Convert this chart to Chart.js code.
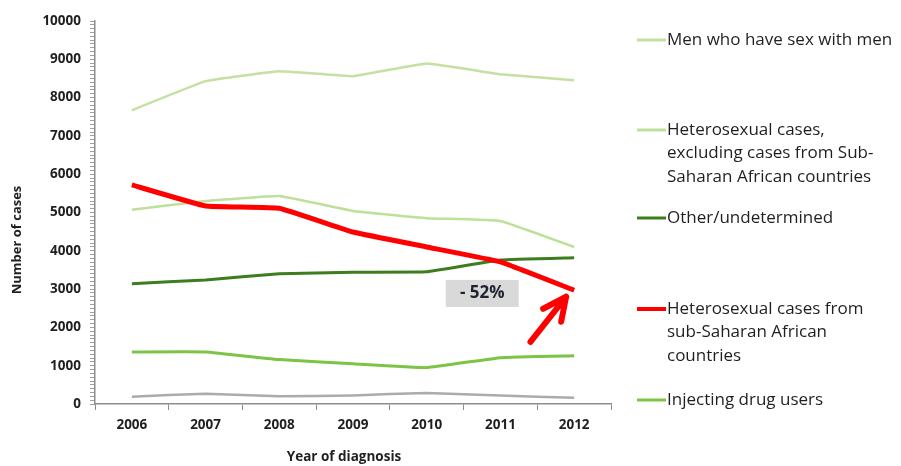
<!DOCTYPE html>
<html>
<head>
<meta charset="utf-8">
<script src="https://cdn.jsdelivr.net/npm/chart.js@4/dist/chart.umd.min.js"></script>
<style>
  html, body { margin:0; padding:0; background:#fff; }
  #wrap { width:901px; height:466px; position:relative; }
</style>
</head>
<body>
<div id="wrap"><canvas id="cases" width="901" height="466"></canvas></div>
<script>
// Diagnoses by route of transmission, 2006-2012
const years = ['2006', '2007', '2008', '2009', '2010', '2011', '2012'];

const msm = [7670, 8430, 8690, 8560, 8890, 8610, 8450];
const heteroNonSSA = [5070, 5300, 5430, 5040, 4850, 4780, 4100];
const otherUndetermined = [3140, 3240, 3400, 3440, 3450, 3760, 3820];
const heteroSSA = [5720, 5170, 5110, 4490, 4100, 3710, 2970];
const idu = [1360, 1360, 1160, 1050, 950, 1210, 1260];
const unlabelled = [190, 270, 200, 225, 290, 220, 160];

const changeLabel = '- 52%';

const FONT = "'Open Sans', 'DejaVu Sans', sans-serif";
const TEXT = '#1f1f1f';
const AXIS = '#8c8c8c';

// legend rows: label lines + vertical position of the first line
const legendRows = [
    { ds: 0, lines: ['Men who have sex with men'], y: 40 },
    { ds: 1, lines: ['Heterosexual cases,', 'excluding cases from Sub-', 'Saharan African countries'], y: 130 },
    { ds: 2, lines: ['Other/undetermined'], y: 218 },
    { ds: 3, lines: ['Heterosexual cases from', 'sub-Saharan African', 'countries'], y: 309 },
    { ds: 4, lines: ['Injecting drug users'], y: 400 }
];

const sideLegend = {
    id: 'sideLegend',
    afterDraw(chart) {
        const ctx = chart.ctx;
        ctx.save();
        ctx.font = '17px ' + FONT;
        ctx.fillStyle = TEXT;
        ctx.textBaseline = 'middle';
        ctx.textAlign = 'left';
        legendRows.forEach(row => {
            const ds = chart.data.datasets[row.ds];
            ctx.strokeStyle = ds.borderColor;
            ctx.lineWidth = ds.borderWidth > 4 ? 4 : 3;
            ctx.beginPath();
            ctx.moveTo(637, row.y);
            ctx.lineTo(666, row.y);
            ctx.stroke();
            row.lines.forEach((t, i) => ctx.fillText(t, 667, row.y + i * 23.5));
        });
        ctx.restore();
    }
};

// axis titles, placed by hand
const axisTitles = {
    id: 'axisTitles',
    afterDraw(chart) {
        const ctx = chart.ctx;
        const area = chart.chartArea;
        ctx.save();
        ctx.fillStyle = TEXT;
        ctx.font = 'bold 13.5px ' + FONT;
        ctx.textAlign = 'center';
        ctx.textBaseline = 'middle';
        ctx.fillText('Year of diagnosis', (area.left + area.right) / 2 - 9, 457);
        ctx.font = 'bold 13px ' + FONT;
        ctx.translate(17, 240);
        ctx.rotate(-Math.PI / 2);
        ctx.fillText('Number of cases', 0, 0);
        ctx.restore();
    }
};

// "- 52%" box and the red arrow pointing at the 2012 value
const changeNote = {
    id: 'changeNote',
    afterDatasetsDraw(chart) {
        const ctx = chart.ctx;
        const x = chart.scales.x, y = chart.scales.y;
        const last = years.length - 1;
        ctx.save();

        const bx = x.getPixelForValue(4) + 19;
        const by = y.getPixelForValue(3240);
        ctx.fillStyle = '#d9d9d9';
        ctx.fillRect(bx, by, 73, 27);
        ctx.fillStyle = '#1e2430';
        ctx.font = 'bold 17px ' + FONT;
        ctx.textAlign = 'center';
        ctx.textBaseline = 'middle';
        ctx.fillText(changeLabel, bx + 36.5, by + 13.5);

        const tipX = x.getPixelForValue(last) - 8;
        const tipY = y.getPixelForValue(heteroSSA[last] - 170);
        const tailX = x.getPixelForValue(last - 1) + 30;
        const tailY = y.getPixelForValue(1620);
        ctx.strokeStyle = '#ff0000';
        ctx.lineWidth = 6;
        ctx.lineCap = 'round';
        ctx.lineJoin = 'round';
        ctx.beginPath();
        ctx.moveTo(tailX, tailY);
        ctx.lineTo(tipX, tipY);
        ctx.moveTo(tipX - 23, tipY + 12);
        ctx.lineTo(tipX, tipY);
        ctx.lineTo(tipX - 5, tipY + 25);
        ctx.stroke();
        ctx.restore();
    }
};

const line = (label, data, color, width, order) => ({
    label, data,
    borderColor: color,
    backgroundColor: color,
    borderWidth: width,
    pointRadius: 0,
    tension: 0.08,
    borderJoinStyle: 'round',
    order
});

new Chart(document.getElementById('cases'), {
    type: 'line',
    data: {
        labels: years,
        datasets: [
            line('Men who have sex with men', msm, '#c4e0a2', 2.5, 4),
            line('Heterosexual cases, excluding cases from Sub-Saharan African countries', heteroNonSSA, '#bde09a', 2.5, 3),
            line('Other/undetermined', otherUndetermined, '#3d7d20', 3, 2),
            line('Heterosexual cases from sub-Saharan African countries', heteroSSA, '#ff0000', 5, 0),
            line('Injecting drug users', idu, '#7cc346', 3, 1),
            line('', unlabelled, '#ababab', 2.5, 5)
        ]
    },
    options: {
        responsive: false,
        animation: false,
        events: [],
        layout: { padding: { top: 21, right: 290, left: 0, bottom: 0 } },
        plugins: {
            legend: { display: false },
            tooltip: { enabled: false }
        },
        scales: {
            x: {
                offset: true,
                grid: { offset: true, drawOnChartArea: false, tickLength: 6, color: AXIS },
                border: { color: AXIS, width: 1.5 },
                ticks: { color: TEXT, font: { family: FONT, size: 13.5, weight: 'bold' }, padding: 7 },
                afterFit(scale) { scale.height = 62; }
            },
            y: {
                min: 0,
                max: 10000,
                grid: { drawOnChartArea: false, tickLength: 5, color: '#a0a0a0' },
                border: { color: AXIS, width: 1.5 },
                ticks: {
                    stepSize: 100,
                    autoSkip: false,
                    color: TEXT,
                    padding: 9,
                    font: { family: FONT, size: 13.5, weight: 'bold' },
                    callback: v => (v % 1000 === 0 ? v : '')
                },
                afterFit(scale) { scale.width = 95; }
            }
        }
    },
    plugins: [changeNote, sideLegend, axisTitles]
});
</script>
</body>
</html>
